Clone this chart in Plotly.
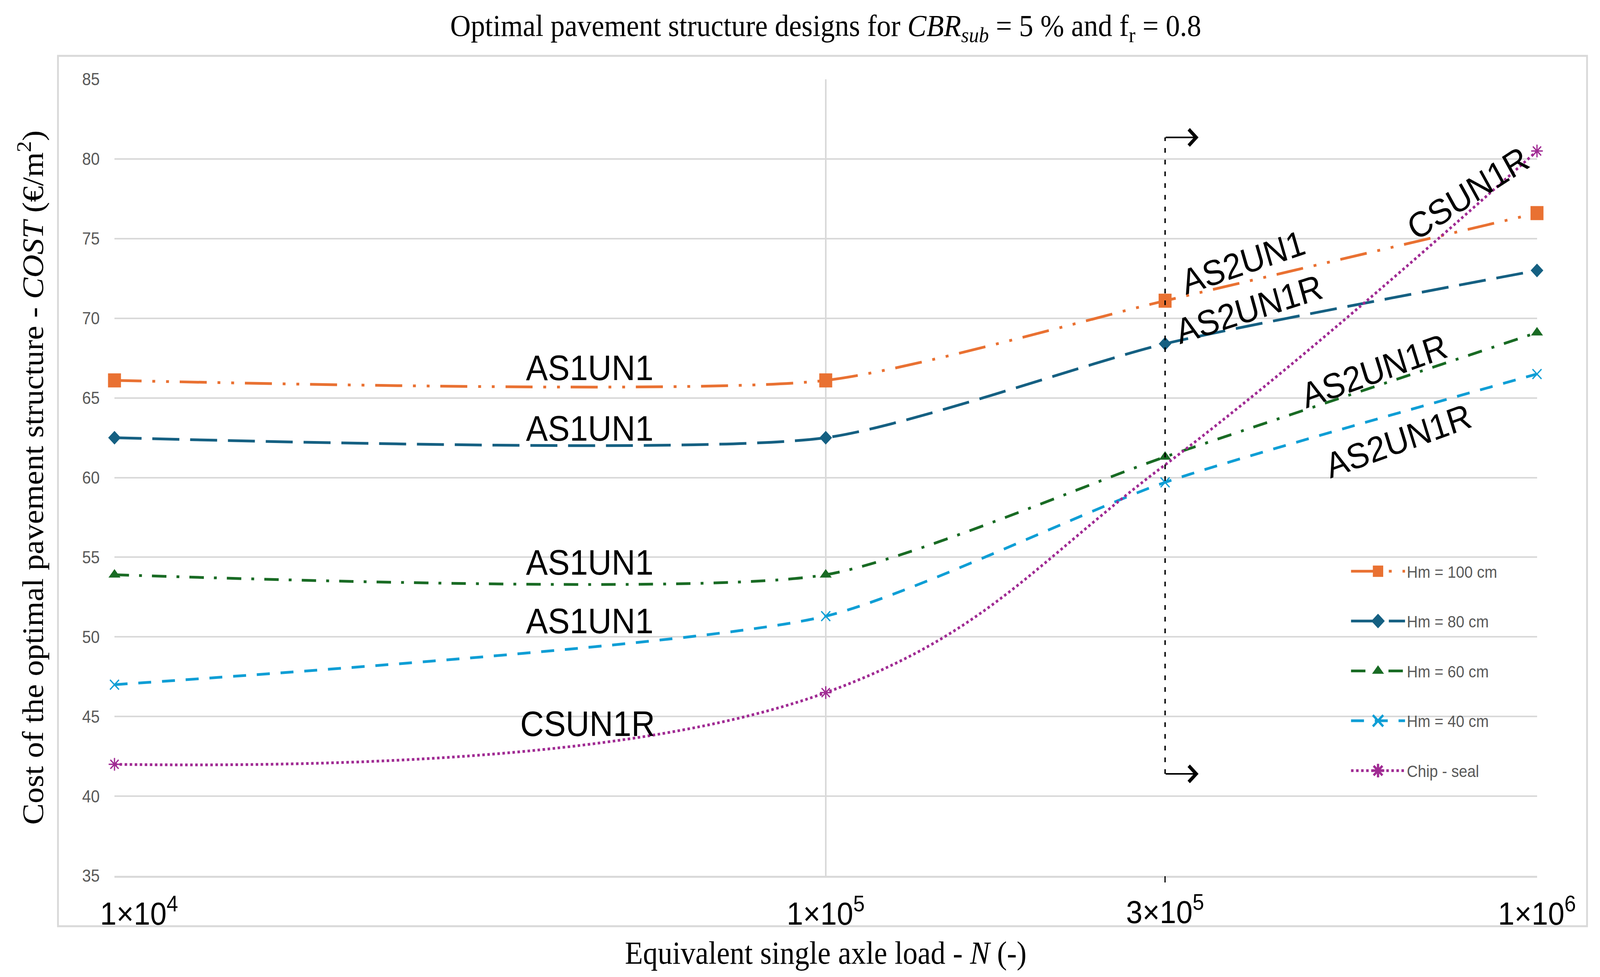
import math
import plotly.graph_objects as go

# ---------------- data ----------------
N_VALUES = [1e4, 1e5, 3e5, 1e6]
COST_HM100 = [66.1, 66.1, 71.1, 76.6]
COST_HM80 = [62.5, 62.5, 68.4, 73.0]
COST_HM60 = [53.9, 53.9, 61.3, 69.1]
COST_HM40 = [47.0, 51.3, 59.7, 66.5]
COST_CHIPSEAL = [42.0, 46.5, 60.8, 80.5]
SERIES_NAMES = ["Hm = 100 cm", "Hm = 80 cm", "Hm = 60 cm", "Hm = 40 cm", "Chip - seal"]

X_TICK_VALUES = [1e4, 1e5, 1e6]
X_TICK_LABELS = ["1×10<sup>4</sup>", "1×10<sup>5</sup>", "1×10<sup>6</sup>"]
BOUNDARY_N = 3e5
BOUNDARY_LABEL = "3×10<sup>5</sup>"
BOUNDARY_COST = [41.4, 81.35]
Y_TICK_VALUES = [35, 40, 45, 50, 55, 60, 65, 70, 75, 80, 85]

DESIGN_LABELS = ["AS1UN1", "AS1UN1", "AS1UN1", "AS1UN1", "CSUN1R",
                 "AS2UN1", "AS2UN1R", "CSUN1R", "AS2UN1R", "AS2UN1R"]

TITLE = ("Optimal pavement structure designs for <i>CBR</i><sub><i>sub</i></sub>"
         " = 5 % and f<sub>r</sub> = 0.8")
X_TITLE = "Equivalent single axle load - <i>N</i> (-)"
Y_TITLE = "Cost of the optimal pavement structure - <i>COST</i> (€/m<sup>2</sup>)"

# ---------------- styling / placement ----------------
SERIES_COSTS = [COST_HM100, COST_HM80, COST_HM60, COST_HM40, COST_CHIPSEAL]
STYLES = [
    dict(color="#E97132", dash="75px,30px,8px,30px,8px,30px", symbol="square", size=36, lw=0, sm=0.6),
    dict(color="#156082", dash="75px,30px", symbol="diamond", size=27, lw=0, sm=0.6),
    dict(color="#196B24", dash="40px,28px,8px,28px", symbol="triangle-up", size=29, lw=0, sm=0.6),
    dict(color="#0F9ED5", dash="36px,30px", symbol="x-thin-open", size=25, lw=3.5, sm=0.6),
    dict(color="#A02B93", dash="dot", symbol="asterisk-open", size=27, lw=3.5, sm=1.15),
]
# marker shown per point (chip-seal marker hidden at the 3x10^5 point)
MARKER_VISIBLE = [
    [1, 1, 1, 1], [1, 1, 1, 1], [1, 1, 1, 1], [1, 1, 1, 1], [1, 1, 0, 1],
]
LABEL_POS = [  # (N, cost, angle)
    (10 ** 4.668, 66.9, 0), (10 ** 4.668, 63.08, 0), (10 ** 4.668, 54.67, 0),
    (10 ** 4.668, 50.99, 0), (10 ** 4.665, 44.54, 0),
    (10 ** 5.587, 73.5, -17.5), (10 ** 5.595, 70.58, -16.5), (10 ** 5.903, 77.85, -31),
    (10 ** 5.771, 66.7, -18.5), (10 ** 5.805, 62.3, -18.5),
]

SANS = "Liberation Sans"
SERIF = "Liberation Serif"
GRID = "#D9D9D9"
W, H = 4444, 2501

fig = go.Figure()

for name, costs, st, vis in zip(SERIES_NAMES, SERIES_COSTS, STYLES, MARKER_VISIBLE):
    fig.add_trace(go.Scatter(
        x=N_VALUES, y=costs, name=name, legendgroup=name,
        mode="lines+markers",
        line=dict(color=st["color"], width=7, dash=st["dash"], shape="spline", smoothing=st["sm"]),
        marker=dict(symbol=st["symbol"], size=[st["size"] * v for v in vis], color=st["color"],
                    opacity=1, line=dict(color=st["color"], width=st["lw"])),
        cliponaxis=False, hoverinfo="x+y",
    ))

# vertical boundary line at N = 3x10^5
fig.add_trace(go.Scatter(
    x=[BOUNDARY_N, BOUNDARY_N], y=BOUNDARY_COST, mode="lines", xaxis="x2",
    line=dict(color="black", width=4, dash="12px,18px"),
    showlegend=False, hoverinfo="skip",
))

annotations = []
# arrows pointing right at both ends of the boundary line
for yv in BOUNDARY_COST:
    annotations.append(dict(
        x=math.log10(BOUNDARY_N) + 0.047, y=yv, ax=math.log10(BOUNDARY_N), ay=yv,
        xref="x", yref="y", axref="x", ayref="y", text="", showarrow=True,
        arrowhead=4, arrowsize=2.0, arrowwidth=4, arrowcolor="black", standoff=0,
    ))
for text, (nx, cy, ang) in zip(DESIGN_LABELS, LABEL_POS):
    annotations.append(dict(
        x=math.log10(nx), y=cy, xref="x", yref="y", text=text, showarrow=False,
        textangle=ang, font=dict(family=SANS, size=91, color="black"),
        xanchor="center", yanchor="middle",
    ))

x_ticktext = list(X_TICK_LABELS)
x_ticktext[0] = "\u00a0" * 6 + x_ticktext[0]

fig.update_layout(
    width=W, height=H,
    paper_bgcolor="white", plot_bgcolor="white",
    margin=dict(l=318, r=175, t=203, b=259, autoexpand=False),
    title=dict(text=TITLE, x=0.5, xref="paper", xanchor="center",
               y=1 - 64 / H, yref="container", yanchor="middle",
               font=dict(family=SERIF, size=79, color="black")),
    xaxis=dict(type="log", range=[4, 6], tickvals=X_TICK_VALUES, ticktext=x_ticktext,
               showgrid=True, gridcolor=GRID, gridwidth=3.5, zeroline=False,
               showline=True, linecolor=GRID, linewidth=5, ticks="",
               tickfont=dict(family=SANS, size=82, color="black"),
               ticklabelstandoff=22,
               title=dict(text=X_TITLE, font=dict(family=SERIF, size=82, color="black"),
                          standoff=28),
               automargin=False),
    xaxis2=dict(type="log", range=[4, 6], overlaying="x", anchor="y", side="bottom",
                tickvals=[BOUNDARY_N], ticktext=[BOUNDARY_LABEL], showgrid=False,
                zeroline=False, showline=False, ticks="outside", ticklen=16,
                tickwidth=3, tickcolor="black",
                tickfont=dict(family=SANS, size=82, color="black"),
                ticklabelstandoff=6, automargin=False),
    yaxis=dict(range=[35, 85], tickvals=Y_TICK_VALUES, showgrid=True, gridcolor=GRID,
               gridwidth=3.5, zeroline=False, ticks="",
               tickfont=dict(family=SANS, size=44, color="#595959"),
               ticklabelstandoff=40,
               title=dict(text=Y_TITLE, font=dict(family=SERIF, size=82, color="black"),
                          standoff=80),
               automargin=False),
    legend=dict(x=0.868, y=0.399, xanchor="left", yanchor="top",
                font=dict(family=SANS, size=42, color="#595959"),
                itemwidth=150, tracegroupgap=70, traceorder="grouped",
                bgcolor="rgba(0,0,0,0)"),
    annotations=annotations,
    shapes=[dict(type="rect", xref="paper", yref="paper",
                 x0=(161 - 318) / 3951, x1=(4408 - 318) / 3951,
                 y0=(2242 - 2371) / 2039, y1=(2242 - 143) / 2039,
                 line=dict(color=GRID, width=5), fillcolor="rgba(0,0,0,0)", layer="below")],
)

# fit the fixed-size figure exactly into the browser viewport,
# and enlarge the (size-capped) legend markers to the reference size
FIT_JS = """
var W = %d, H = %d;
var gd = document.getElementById('{plot_id}');
gd.querySelectorAll('.legend .legendpoints path.scatterpts').forEach(function(p) {
  var t = p.getAttribute('transform') || '';
  p.setAttribute('transform', t + ' scale(1.8)');
});
var vw = window.innerWidth || W, vh = window.innerHeight || H;
var sx = vw / W, sy = vh / H;
if (!(vh > 100)) { sy = sx; }
document.documentElement.style.margin = '0';
document.documentElement.style.overflow = 'hidden';
document.body.style.margin = '0';
document.body.style.overflow = 'hidden';
document.body.style.width = (W * sx) + 'px';
document.body.style.height = (H * sy) + 'px';
document.documentElement.style.height = (H * sy) + 'px';
if (Math.abs(sx - 1) > 0.001 || Math.abs(sy - 1) > 0.001) {
  gd.style.transformOrigin = '0 0';
  gd.style.transform = 'scale(' + sx + ',' + sy + ')';
}
""" % (W, H)

fig.write_html("out.html", post_script=FIT_JS, config={"displayModeBar": False})
